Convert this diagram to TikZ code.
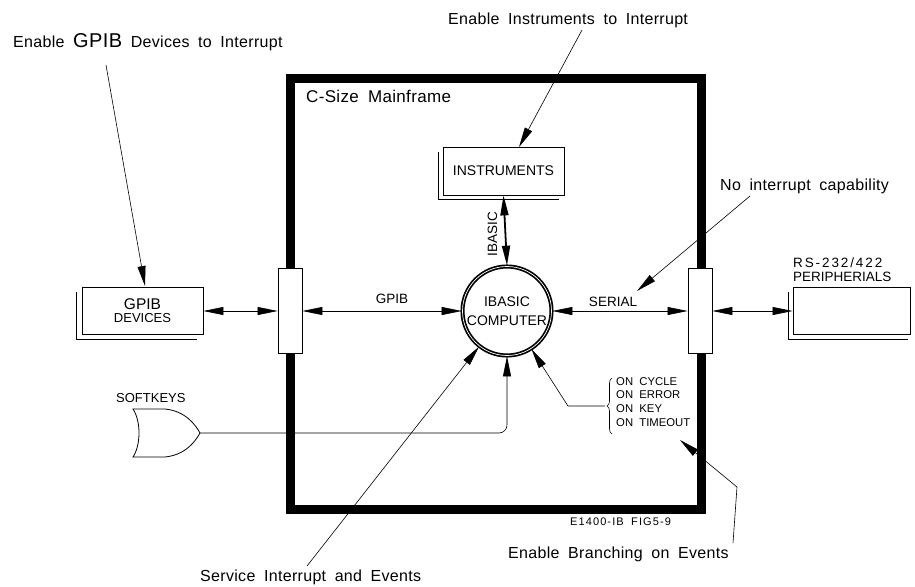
\documentclass[tikz,border=0pt]{standalone}
\usepackage{fontspec}
\setmainfont{Liberation Sans}
\newfontfamily\cadfont{Liberation Sans}[WordSpace=1.8, LetterSpace=2]
\usetikzlibrary{arrows.meta,decorations.pathreplacing}
\begin{document}
\begin{tikzpicture}[x=1pt,y=-1pt,
  >={Triangle[length=20pt,width=8pt]},
  wire/.style={line width=0.6pt},
  conn/.style={wire,<->},
  note/.style={font=\cadfont\fontsize{16}{18}\selectfont, inner sep=0pt},
  lbl/.style={font=\fontsize{13.5}{15}\selectfont, inner sep=0pt},
  devbox/.style={draw, line width=0.8pt, fill=white, inner sep=0pt, font=\fontsize{14}{16}\selectfont},
  port/.style={draw, line width=0.8pt, fill=white, minimum width=24pt, minimum height=85pt, inner sep=0pt},
  mainframe/.style={line width=9pt},
  shadowline/.style={line width=0.8pt}
]
\useasboundingbox (0,0) rectangle (915,586);

% main frame
\draw[mainframe] (290,78) rectangle (701,509);
\node[note, anchor=base west, font=\cadfont\fontsize{17}{18}\selectfont] (title) at (306,102) {C-Size Mainframe};

% ports
\node[port] (pl) at (290,311) {};
\node[port] (pr) at (700,311) {};

% devices
\node[devbox, minimum width=121pt, minimum height=47pt, align=center] (dev) at (142.5,311)
  {{\fontsize{15.5}{15}\selectfont GPIB}\\[-3pt]{\fontsize{13}{14}\selectfont DEVICES}};
\draw[shadowline] ([shift={(-5,5)}]dev.north west) |- ([shift={(-6,4)}]dev.south east);

\node[devbox, minimum width=121pt, minimum height=48pt] (ins) at (503.5,171) {INSTRUMENTS};
\draw[shadowline] ([shift={(-4,5)}]ins.north west) |- ([shift={(-5,4)}]ins.south east);

\node[devbox, minimum width=117pt, minimum height=47pt] (per) at (851.5,311) {};
\draw[shadowline] ([shift={(-4,5)}]per.north west) |- ([shift={(-2,4)}]per.south east);
\node[lbl, anchor=base west] (rs) at (793,267) {\addfontfeatures{LetterSpace=14}RS-232/422};
\node[lbl, anchor=base west] (perl) at (793,281) {PERIPHERIALS};

% computer
\node[circle, draw, line width=1.7pt, double=white, double distance=0.7pt, minimum size=89pt,
      inner sep=0pt, align=center, font=\fontsize{14}{19}\selectfont] (cpu) at (507,311) {IBASIC\\COMPUTER};

% connections
\draw[conn] (dev.east) -- (pl.west);
\draw[conn] (pl.east) -- (cpu.west);
\draw[conn] (cpu.east) -- (pr.west);
\draw[conn] (pr.east) -- (per.west);
\draw[<->, line width=1.8pt] (ins.south) -- (cpu.north);

\node[lbl, anchor=base] (gpibl) at (392,303) {GPIB};
\node[lbl, anchor=base] (seriall) at (613,306) {SERIAL};
\node[lbl, anchor=base, rotate=90] (ibasicl) at (497,234) {IBASIC};

% softkeys gate
\node[lbl, anchor=base west, font=\fontsize{13}{14}\selectfont] (softl) at (116,402) {SOFTKEYS};
\draw[line width=0.8pt] (133,409) -- (165,409) .. controls (185,411) and (195,424) .. (200,433)
   .. controls (195,442) and (185,455) .. (165,457) -- (133,457)
   .. controls (141,445) and (141,421) .. (133,409) -- cycle;
\coordinate (gout) at (200,433);
\draw[wire, ->, rounded corners=8pt] (gout) -| (cpu.south);

% ON list with brace
\node[anchor=north west, align=left, inner sep=0pt, font=\fontsize{11.3}{13.8}\selectfont] (onl) at (616,377)
  {ON\ \ CYCLE\\ON\ \ ERROR\\ON\ \ KEY\\ON\ \ TIMEOUT};
\draw[wire, decorate, decoration={brace, amplitude=5pt}] (612,434) -- (612,378);
\coordinate (brtip) at (605,406);
\coordinate (brk) at (568,406);
\draw[wire, ->] (brtip) -- (brk) -- (cpu);

% annotations
\node[note, anchor=base west] (n1) at (13,48) {Enable {\fontsize{20}{20}\selectfont GPIB} Devices to Interrupt};
\coordinate (n1a) at (106,65);
\coordinate (n1b) at (145,286);
\draw[wire, ->] (n1a) -- (n1b);

\node[note, anchor=base west] (n2) at (448,25) {Enable Instruments to Interrupt};
\coordinate (n2a) at (582,30);
\coordinate (n2b) at (519,147);
\draw[wire, ->] (n2a) -- (n2b);

\node[note, anchor=base west] (n3) at (720,190) {No interrupt capability};
\coordinate (n3a) at (750,196);
\coordinate (n3b) at (637,291);
\draw[wire, ->] (n3a) -- (n3b);

\node[note, anchor=base west] (n4) at (200,581) {Service Interrupt and Events};
\coordinate (n4a) at (307,566);
\draw[wire, ->] (n4a) -- (cpu);

\node[note, anchor=base west] (n5) at (508,558) {Enable Branching on Events};
\coordinate (n5a) at (733,543);
\coordinate (n5b) at (737,487);
\coordinate (n5c) at (680,440);
\draw[wire, ->] (n5a) -- (n5b) -- (n5c);

\node[anchor=base west, inner sep=0pt, font=\cadfont\fontsize{11}{12}\selectfont] (fig) at (570,525)
  {\addfontfeatures{LetterSpace=10}E1400-IB FIG5-9};
\end{tikzpicture}
\end{document}
